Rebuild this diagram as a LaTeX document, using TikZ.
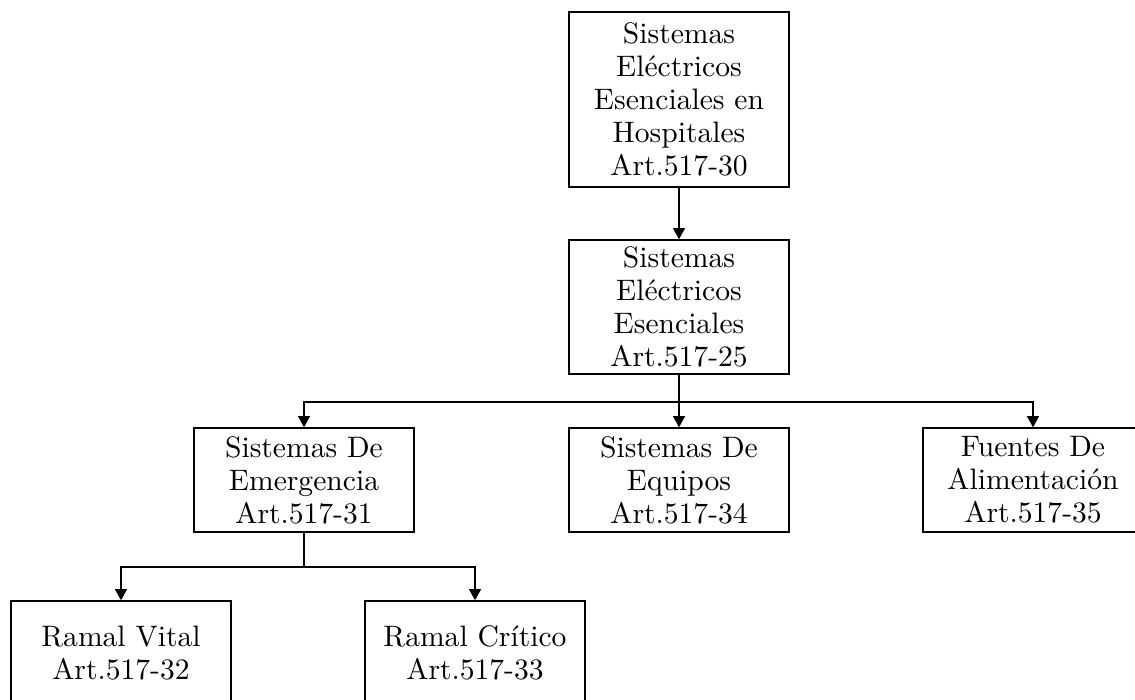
\documentclass[tikz,border=0pt]{standalone}
\usepackage{fontspec}
\setmainfont{lmroman10-regular.otf}
\usetikzlibrary{arrows.meta}
\tikzset{
  box/.style={draw=black, line width=1.6pt, rectangle, minimum width=220pt,
    text width=214pt, align=center, inner sep=0pt,
    font=\fontsize{29.6}{33}\selectfont},
  link/.style={line width=1.1pt, draw=black},
  tolink/.style={link, -{Triangle[length=11pt,width=12pt]}}
}
\begin{document}
\begin{tikzpicture}[x=1pt, y=-1pt]
  \useasboundingbox (0,0) rectangle (1135,700);
  % top level
  \node[box, minimum height=175pt] (hosp) at (679,99.5)
    {Sistemas\\Eléctricos\\Esenciales en\\Hospitales\\Art.517-30};
  \node[box, minimum height=134pt] (ese) at (679,307)
    {Sistemas\\Eléctricos\\Esenciales\\Art.517-25};
  % second level
  \node[box, minimum height=104pt] (emer) at (304,480)
    {Sistemas De\\Emergencia\\Art.517-31};
  \node[box, minimum height=104pt] (equi) at (679,480)
    {Sistemas De\\Equipos\\Art.517-34};
  \node[box, minimum height=104pt] (fuen) at (1033,480)
    {Fuentes De\\Alimentación\\Art.517-35};
  % branches of the emergency system
  \node[box, minimum height=104pt] (vital) at (121,653)
    {Ramal Vital\\Art.517-32};
  \node[box, minimum height=104pt] (crit) at (475,653)
    {Ramal Crítico\\Art.517-33};
  % junction points
  \coordinate (j1) at (679,402);
  \coordinate (j2) at (304,567);
  % connectors
  \draw[tolink] (hosp.south) -- (ese.north);
  \draw[link] (ese.south) -- (j1);
  \draw[tolink] (j1) -| (emer.north);
  \draw[tolink] (j1) -- (equi.north);
  \draw[tolink] (j1) -| (fuen.north);
  \draw[link] (emer.south) -- (j2);
  \draw[tolink] (j2) -| (vital.north);
  \draw[tolink] (j2) -| (crit.north);
\end{tikzpicture}
\end{document}
